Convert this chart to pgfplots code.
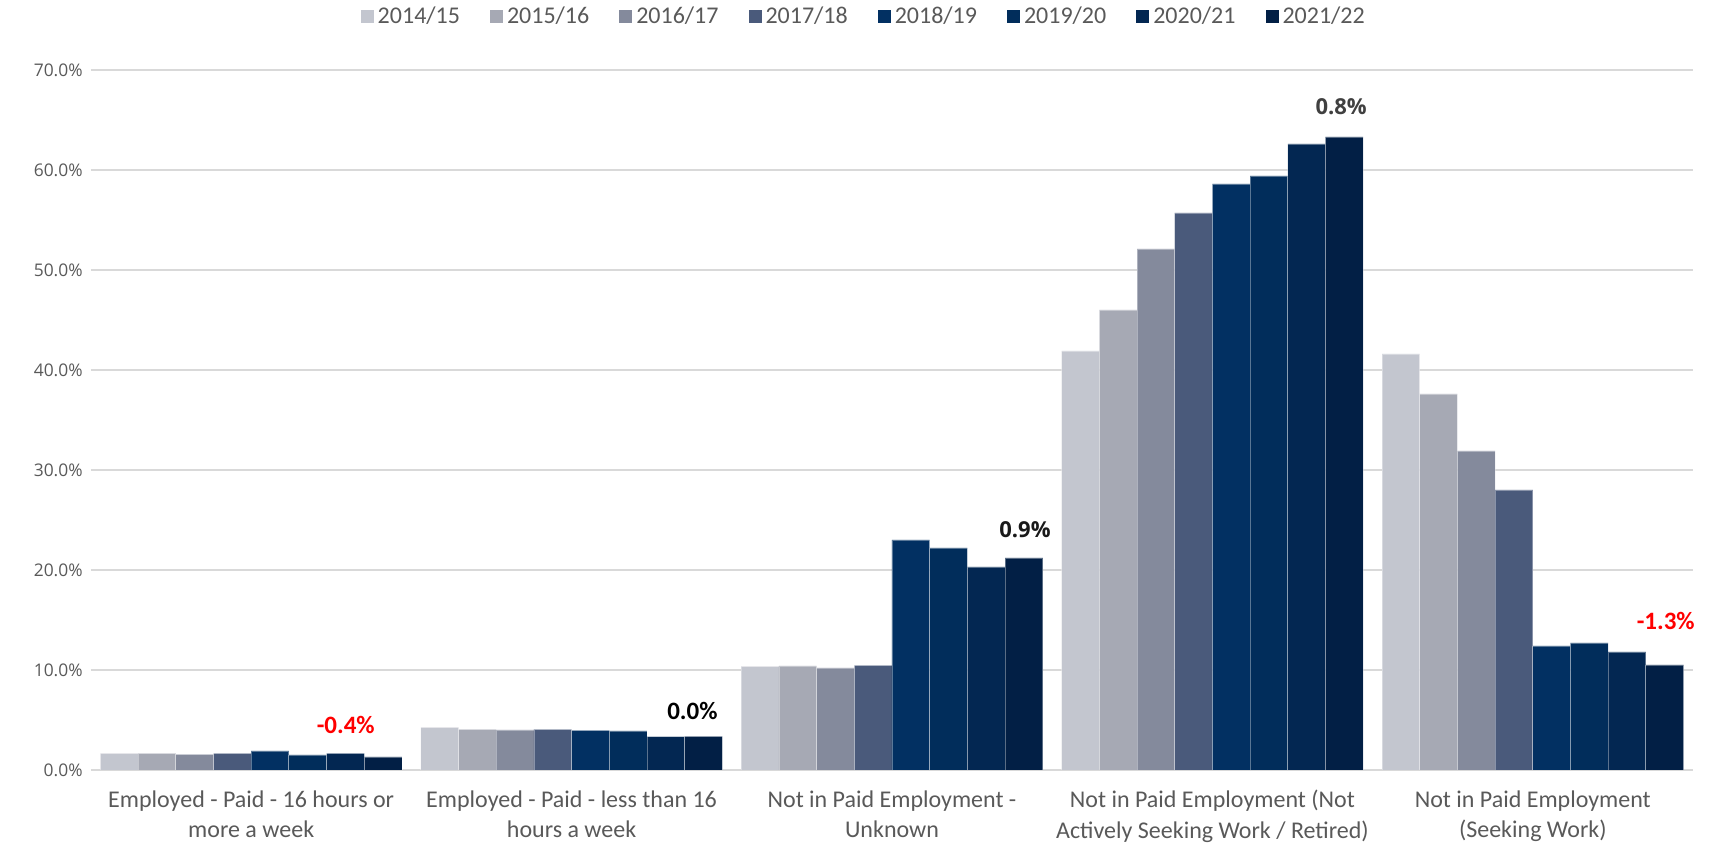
\documentclass[border=0pt]{standalone}
\usepackage{pgfplots}
\pgfplotsset{compat=1.18}
\usepackage{fontspec}
\setmainfont{Carlito}
\newfontfamily\osans{Open Sans}
\definecolor{c1}{HTML}{C3C6CF}
\definecolor{c2}{HTML}{A6A9B4}
\definecolor{c3}{HTML}{848A9C}
\definecolor{c4}{HTML}{4A5A7B}
\definecolor{c5}{HTML}{023062}
\definecolor{c6}{HTML}{012D5B}
\definecolor{c7}{HTML}{032752}
\definecolor{c8}{HTML}{021F45}
\definecolor{txt}{HTML}{595959}
\definecolor{gridc}{HTML}{D9D9D9}
\begin{document}
\begin{tikzpicture}
\useasboundingbox (0,0) rectangle (857.5pt,422pt);
\begin{axis}[
  at={(45.5pt,37pt)}, anchor=south west,
  scale only axis, width=801pt, height=350pt,
  xmin=-0.5, xmax=4.5, ymin=0, ymax=70,
  ybar, bar width=0.11765,
  axis line style={draw=none},
  major tick length=0pt,
  xmajorgrids=false, ymajorgrids=true,
  major grid style={draw=gridc, line width=0.75pt},
  ytick={0,10,...,70},
  yticklabel={\pgfmathprintnumber[fixed,fixed zerofill,precision=1]{\tick}\%},
  /pgf/number format/assume math mode=true,
  yticklabel style={font=\osans\fontsize{8.7}{10}\selectfont, text=txt, inner sep=0pt, anchor=east, xshift=-4pt},
  xtick={0,1,2,3,4},
  xticklabels={{Employed - Paid - 16 hours or\\more a week},{Employed - Paid - less than 16\\hours a week},{Not in Paid Employment -\\Unknown},{Not in Paid Employment (Not\\Actively Seeking Work / Retired)},{Not in Paid Employment\\(Seeking Work)}},
  xticklabel style={font=\fontsize{12}{15.3}\selectfont, text=txt, align=center, anchor=north, inner sep=0pt, yshift=-10pt},
  legend columns=8,
  legend style={draw=none, fill=none, font=\fontsize{12}{14}\selectfont, text=txt,
    at={(axis description cs:0.483,1.0757)}, anchor=center,
    /tikz/every even column/.append style={column sep=13pt}},
  legend image code/.code={\fill[#1,draw=none] (0pt,-3.25pt) rectangle (6.5pt,3.25pt);},
  every axis plot/.append style={draw=white, draw opacity=0.35, line width=0.4pt},
]
\addplot[fill=c1, bar shift=-0.41176] coordinates {(0,1.67) (1,4.27) (2,10.37) (3,41.9) (4,41.6)};
\addplot[fill=c2, bar shift=-0.29412] coordinates {(0,1.67) (1,4.07) (2,10.4) (3,46.0) (4,37.6)};
\addplot[fill=c3, bar shift=-0.17647] coordinates {(0,1.57) (1,4.0) (2,10.2) (3,52.1) (4,31.9)};
\addplot[fill=c4, bar shift=-0.05882] coordinates {(0,1.67) (1,4.07) (2,10.47) (3,55.7) (4,28.0)};
\addplot[fill=c5, bar shift=0.05882] coordinates {(0,1.9) (1,3.97) (2,23.0) (3,58.6) (4,12.4)};
\addplot[fill=c6, bar shift=0.17647] coordinates {(0,1.5) (1,3.9) (2,22.2) (3,59.4) (4,12.7)};
\addplot[fill=c7, bar shift=0.29412] coordinates {(0,1.67) (1,3.33) (2,20.3) (3,62.6) (4,11.8)};
\addplot[fill=c8, bar shift=0.41176] coordinates {(0,1.3) (1,3.37) (2,21.2) (3,63.3) (4,10.5)};
\legend{2014/15,2015/16,2016/17,2017/18,2018/19,2019/20,2020/21,2021/22}
\node[font=\bfseries\fontsize{12.5}{14}\selectfont, text=red] at (axis cs:0.295,4.5) {-0.4\%};
\node[font=\bfseries\fontsize{12.5}{14}\selectfont, text=black] at (axis cs:1.377,5.9) {0.0\%};
\node[font=\osans\bfseries\fontsize{11}{13}\selectfont, text=black!90] at (axis cs:2.415,24.05) {0.9\%};
\node[font=\osans\bfseries\fontsize{11}{13}\selectfont, text=black!75] at (axis cs:3.402,66.3) {0.8\%};
\node[font=\bfseries\fontsize{12.5}{14}\selectfont, text=red] at (axis cs:4.415,14.9) {-1.3\%};
\end{axis}
\end{tikzpicture}
\end{document}
